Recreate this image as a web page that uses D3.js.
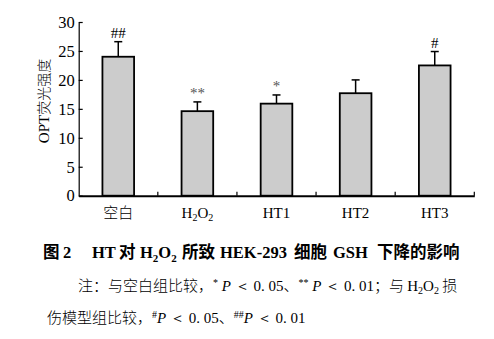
<!DOCTYPE html>
<html><head><meta charset="utf-8">
<script src="https://cdn.jsdelivr.net/npm/d3@7"></script>
<style>body{margin:0;background:#fff}svg{display:block}</style>
</head><body>
<svg id="c" width="494" height="339"></svg>
<script>
const categories = ["空白", "H2O2", "HT1", "HT2", "HT3"];
const means = [24.0, 14.6, 15.9, 17.7, 22.5];
const errors = [2.6, 1.6, 1.5, 2.3, 2.4];
const marks = ["##", "**", "*", "", "#"];
const yTicks = [0, 5, 10, 15, 20, 25, 30];

const SERIF = "'Liberation Serif','Times New Roman',serif";
const CJK = "'Noto Sans CJK SC',sans-serif";
const svg = d3.select("#c");
const x = d3.scaleBand().domain(categories).range([78.7, 474.3]).paddingInner(0.6).paddingOuter(0.3);
const y = d3.scaleLinear().domain([0, 30]).range([195.7, 22]);

// bars
svg.selectAll("rect.bar").data(categories).enter().append("rect")
  .attr("x", d => x(d)).attr("width", x.bandwidth())
  .attr("y", (d, i) => y(means[i])).attr("height", (d, i) => y(0) - y(means[i]))
  .attr("fill", "#cccccc").attr("stroke", "#000").attr("stroke-width", 1.8);

// error bars
const eg = svg.append("g").attr("stroke", "#000").attr("stroke-width", 1.5);
categories.forEach((d, i) => {
  const cx = x(d) + x.bandwidth() / 2;
  eg.append("line").attr("x1", cx).attr("x2", cx).attr("y1", y(means[i])).attr("y2", y(means[i] + errors[i]));
  eg.append("line").attr("x1", cx - 4).attr("x2", cx + 4).attr("y1", y(means[i] + errors[i])).attr("y2", y(means[i] + errors[i]));
  if (marks[i]) {
    svg.append("text").attr("x", cx).attr("y", y(means[i] + errors[i]) - 4)
      .attr("text-anchor", "middle").attr("font-family", SERIF).attr("font-size", 15)
      .attr("fill", marks[i].includes("*") ? "#555" : "#000").text(marks[i]);
  }
});

// y axis
const ya = svg.append("g").attr("transform", "translate(78.7,0)")
  .call(d3.axisLeft(y).tickValues(yTicks).tickSizeInner(-4).tickSizeOuter(0).tickPadding(4));
ya.select(".domain").attr("stroke", "#000").attr("stroke-width", 1.2);
ya.selectAll(".tick line").attr("stroke", "#000").attr("stroke-width", 1.2);
ya.selectAll(".tick text").attr("font-family", SERIF).attr("font-size", 16.5).attr("fill", "#000");

// x axis
const xa = svg.append("g").attr("transform", `translate(0,${y(0)})`)
  .call(d3.axisBottom(x).tickSize(0).tickPadding(10).tickFormat(""));
xa.select(".domain").attr("stroke", "#000").attr("stroke-width", 2);
const step = x.step();
categories.forEach((d) => {
  const bx = x(d) + x.bandwidth() / 2 + step / 2;
  xa.append("line").attr("x1", bx).attr("x2", bx).attr("y1", 0).attr("y2", -4).attr("stroke", "#000").attr("stroke-width", 1.2);
});
categories.forEach((d) => {
  const t = xa.append("text").attr("x", x(d) + x.bandwidth() / 2).attr("y", 22)
    .attr("text-anchor", "middle").attr("font-size", 15).attr("fill", "#000");
  if (d === "H2O2") {
    t.attr("font-family", SERIF);
    t.append("tspan").text("H");
    t.append("tspan").attr("font-size", 10).attr("dy", 3).text("2");
    t.append("tspan").attr("dy", -3).text("O");
    t.append("tspan").attr("font-size", 10).attr("dy", 3).text("2");
  } else if (d === "空白") {
    t.attr("font-family", CJK).attr("font-weight", 300).text(d);
  } else {
    t.attr("font-family", SERIF).text(d);
  }
});

// y label
svg.append("text").attr("transform", "translate(49,101) rotate(-90)")
  .attr("text-anchor", "middle").attr("font-size", 14).attr("fill", "#000")
  .call(t => {
    t.append("tspan").attr("font-family", SERIF).attr("font-size", 15).text("OPT");
    t.append("tspan").attr("font-family", CJK).attr("font-weight", 300).text("荧光强度");
  });

// title
function seg(t, txt, font, opts = {}) {
  const s = t.append("tspan").attr("font-family", font).text(txt);
  Object.entries(opts).forEach(([k, v]) => s.attr(k, v));
  return s;
}
const title = svg.append("text").attr("x", 43).attr("y", 258).attr("font-size", 16.5).attr("font-weight", "bold").attr("fill", "#000");
seg(title, "图", CJK);
seg(title, "2", SERIF, { x: 63 });
seg(title, "HT", SERIF, { x: 92 });
seg(title, "对", CJK, { x: 119 });
seg(title, "H", SERIF, { x: 140 });
seg(title, "2", SERIF, { "font-size": 11, dy: 4 });
seg(title, "O", SERIF, { dy: -4 });
seg(title, "2", SERIF, { "font-size": 11, dy: 4 });
seg(title, "所致", CJK, { dy: -4, x: 182 });
seg(title, "HEK-293", SERIF, { x: 220 });
seg(title, "细胞", CJK, { x: 294 });
seg(title, "GSH", SERIF, { x: 333 });
seg(title, "下降的影响", CJK, { x: 377 });

// notes
const n1 = svg.append("text").attr("x", 78).attr("y", 291).attr("font-size", 15).attr("fill", "#000");
seg(n1, "注：与空白组比较，", CJK, { "font-weight": 300 });
seg(n1, "*", SERIF, { "font-size": 10, dy: -5 });
seg(n1, " P", SERIF, { "font-style": "italic", dy: 5 });
seg(n1, " ＜ 0. 05", SERIF);
seg(n1, "、", CJK, { "font-weight": 300 });
seg(n1, "**", SERIF, { "font-size": 10, dy: -5 });
seg(n1, " P", SERIF, { "font-style": "italic", dy: 5 });
seg(n1, " ＜ 0. 01", SERIF);
seg(n1, "；与 ", CJK, { "font-weight": 300 });
seg(n1, "H", SERIF);
seg(n1, "2", SERIF, { "font-size": 10, dy: 3 });
seg(n1, "O", SERIF, { dy: -3 });
seg(n1, "2", SERIF, { "font-size": 10, dy: 3 });
seg(n1, " 损", CJK, { "font-weight": 300, dy: -3 });

const n2 = svg.append("text").attr("x", 47).attr("y", 323).attr("font-size", 15).attr("fill", "#000");
seg(n2, "伤模型组比较，", CJK, { "font-weight": 300 });
seg(n2, "#", SERIF, { "font-size": 10, dy: -5 });
seg(n2, "P", SERIF, { "font-style": "italic", dy: 5 });
seg(n2, " ＜ 0. 05", SERIF);
seg(n2, "、", CJK, { "font-weight": 300 });
seg(n2, "##", SERIF, { "font-size": 10, dy: -5 });
seg(n2, "P", SERIF, { "font-style": "italic", dy: 5 });
seg(n2, " ＜ 0. 01", SERIF);
</script>
</body></html>
